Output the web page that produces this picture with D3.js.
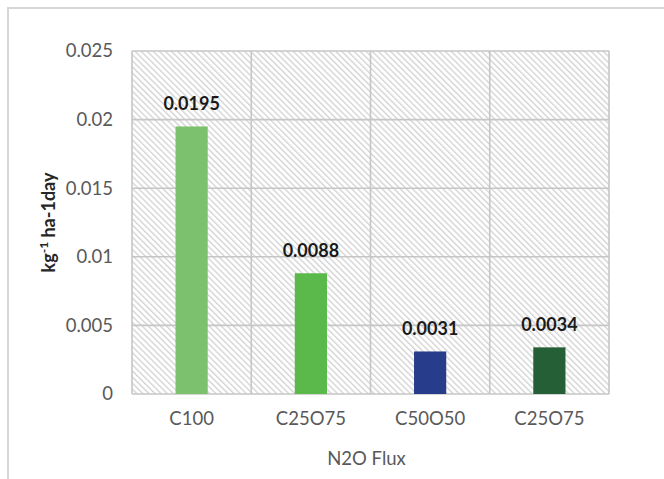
<!DOCTYPE html>
<html>
<head>
<meta charset="utf-8">
<script src="https://cdn.jsdelivr.net/npm/d3@7/dist/d3.min.js"></script>
<style>
  html, body { margin: 0; padding: 0; background: #fff; }
  svg { display: block; font-family: Lato, "Open Sans", sans-serif; }
</style>
</head>
<body>
<svg id="chart" width="664" height="479"></svg>
<script>
// N2O flux per treatment
const categories = ["C100", "C25O75", "C50O50", "C25O75"];
const fluxValues = [0.0195, 0.0088, 0.0031, 0.0034];
const valueLabels = ["0.0195", "0.0088", "0.0031", "0.0034"];
const barColors = ["#7cc16d", "#5ab94a", "#273c8a", "#245f35"];
const yTicks = [0, 0.005, 0.01, 0.015, 0.02, 0.025];
const yTickLabels = ["0", "0.005", "0.01", "0.015", "0.02", "0.025"];

const svg = d3.select("#chart");
const plot = { left: 132, right: 609, top: 51, bottom: 394 };
const gridColor = "#c6c6c6";
const textGray = "#595959";

// outer chart frame (left and top edges visible)
svg.append("path")
  .attr("d", "M8,479 L8,8 L664,8")
  .attr("fill", "none")
  .attr("stroke", "#d6d6d6")
  .attr("stroke-width", 2);

// diagonal hatch used as plot background
const defs = svg.append("defs");
const pat = defs.append("pattern")
  .attr("id", "hatch")
  .attr("patternUnits", "userSpaceOnUse")
  .attr("width", 4.3).attr("height", 4.3)
  .attr("patternTransform", "rotate(45)");
pat.append("rect").attr("width", 4.3).attr("height", 4.3).attr("fill", "#ffffff");
pat.append("line")
  .attr("x1", 0).attr("y1", 1).attr("x2", 4.3).attr("y2", 1)
  .attr("stroke", "#cacaca").attr("stroke-width", 1.1);

const x = d3.scaleBand()
  .domain(d3.range(categories.length))
  .range([plot.left, plot.right])
  .padding(0);

const y = d3.scaleLinear()
  .domain([0, 0.025])
  .range([plot.bottom, plot.top]);

svg.append("rect")
  .attr("x", plot.left).attr("y", plot.top)
  .attr("width", plot.right - plot.left)
  .attr("height", plot.bottom - plot.top)
  .attr("fill", "url(#hatch)");

// horizontal gridlines
svg.append("g")
  .selectAll("line")
  .data(yTicks)
  .join("line")
  .attr("x1", plot.left).attr("x2", plot.right)
  .attr("y1", d => y(d)).attr("y2", d => y(d))
  .attr("stroke", gridColor).attr("stroke-width", 1.6);

// vertical gridlines at category boundaries
const bounds = d3.range(categories.length + 1).map(i =>
  i < categories.length ? x(i) : x(categories.length - 1) + x.bandwidth());
svg.append("g")
  .selectAll("line")
  .data(bounds)
  .join("line")
  .attr("x1", d => d).attr("x2", d => d)
  .attr("y1", plot.top).attr("y2", plot.bottom)
  .attr("stroke", gridColor).attr("stroke-width", 1.6);

// bars
const barW = x.bandwidth() * 0.27;
svg.append("g")
  .selectAll("rect")
  .data(fluxValues)
  .join("rect")
  .attr("x", (d, i) => x(i) + x.bandwidth() / 2 - barW / 2)
  .attr("y", d => y(d))
  .attr("width", barW)
  .attr("height", d => y(0) - y(d))
  .attr("fill", (d, i) => barColors[i]);

// value labels
svg.append("g")
  .selectAll("text")
  .data(fluxValues)
  .join("text")
  .attr("x", (d, i) => x(i) + x.bandwidth() / 2)
  .attr("y", d => y(d) - 16)
  .attr("text-anchor", "middle")
  .attr("font-size", 18)
  .attr("font-weight", "bold")
  .attr("fill", "#1a1a1a")
  .text((d, i) => valueLabels[i]);

// y axis tick labels
const yAxis = d3.axisLeft(y)
  .tickValues(yTicks)
  .tickFormat((d, i) => yTickLabels[i])
  .tickSize(0)
  .tickPadding(19);
const gy = svg.append("g")
  .attr("transform", `translate(${plot.left},0)`)
  .call(yAxis);
gy.select(".domain").remove();
gy.selectAll("text")
  .attr("font-family", "Lato, 'Open Sans', sans-serif")
  .attr("font-size", 18.5)
  .attr("fill", textGray);

// x axis tick labels
const xAxis = d3.axisBottom(x)
  .tickFormat(i => categories[i])
  .tickSize(0)
  .tickPadding(18);
const gx = svg.append("g")
  .attr("transform", `translate(0,${plot.bottom})`)
  .call(xAxis);
gx.select(".domain").remove();
gx.selectAll("text")
  .attr("font-family", "Lato, 'Open Sans', sans-serif")
  .attr("font-size", 18.5)
  .attr("fill", textGray);

// axis titles
svg.append("text")
  .attr("x", (plot.left + plot.right) / 2 - 4)
  .attr("y", 465)
  .attr("text-anchor", "middle")
  .attr("font-size", 18.5)
  .attr("fill", textGray)
  .text("N2O Flux");

const yTitle = svg.append("text")
  .attr("transform", `translate(55,${(plot.top + plot.bottom) / 2}) rotate(-90)`)
  .attr("text-anchor", "middle")
  .attr("font-size", 18)
  .attr("font-weight", "bold")
  .attr("fill", "#262626");
yTitle.append("tspan").text("kg");
yTitle.append("tspan").attr("dy", -7).attr("font-size", 12).text("-1");
yTitle.append("tspan").attr("dy", 7).text(" ha-1day");
</script>
</body>
</html>
